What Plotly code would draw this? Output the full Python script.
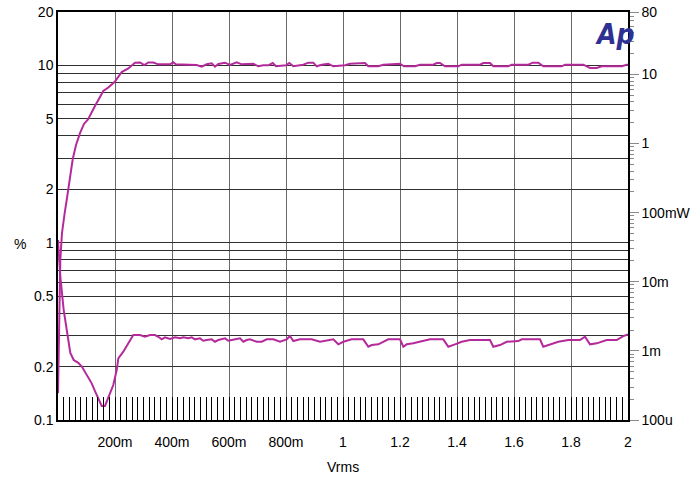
import plotly.graph_objects as go

# ---- data ----
vrms_thd = [0, 0.0081, 0.02, 0.0281, 0.0351, 0.0432, 0.0551, 0.0712, 0.0842, 0.0947,
            0.1077, 0.1182, 0.1298, 0.1414, 0.1533, 0.1649, 0.1765, 0.194, 0.206, 0.2116,
            0.2291, 0.2467, 0.2642, 0.2877, 0.3053, 0.3228, 0.3404, 0.3519, 0.3639, 0.3754,
            0.393, 0.4105, 0.4281, 0.4396, 0.4572, 0.4691, 0.4807, 0.4982, 0.5098, 0.5218,
            0.5393, 0.5509, 0.5625, 0.586, 0.5975, 0.6095, 0.6211, 0.6386, 0.6502, 0.6621,
            0.6737, 0.6972, 0.7147, 0.7323, 0.7554, 0.7789, 0.8025, 0.814, 0.8256, 0.8491,
            0.8902, 0.9193, 0.966, 0.9835, 1.0011, 1.0305, 1.0712, 1.0888, 1.1007, 1.1239,
            1.1589, 1.2, 1.2116, 1.2235, 1.2467, 1.2702, 1.3053, 1.3519, 1.3695, 1.393,
            1.4165, 1.4456, 1.5158, 1.5274, 1.5509, 1.5744, 1.6151, 1.627, 1.6912, 1.7028,
            1.7263, 1.7554, 1.7905, 1.8316, 1.8491, 1.8667, 1.8902, 1.9253, 1.9604, 1.9835,
            2.0]
thd_pct = [1.035, 0.643, 0.417, 0.336, 0.283, 0.239, 0.218, 0.210, 0.1997, 0.187,
           0.175, 0.161, 0.1457, 0.1325, 0.120, 0.120, 0.1325, 0.1575, 0.1913, 0.2228,
           0.2427, 0.2706, 0.3014, 0.3014, 0.2948, 0.3014, 0.3014, 0.2948, 0.2851, 0.2926,
           0.2862, 0.2926, 0.2888, 0.2926, 0.2888, 0.2926, 0.2851, 0.2888, 0.2800, 0.2825,
           0.2851, 0.2763, 0.2825, 0.2888, 0.2800, 0.2825, 0.2851, 0.2888, 0.2763, 0.2825,
           0.2851, 0.2763, 0.2763, 0.2851, 0.2851, 0.2763, 0.2851, 0.2975, 0.2789, 0.2851,
           0.2851, 0.2763, 0.2851, 0.2672, 0.2763, 0.2851, 0.2851, 0.2589, 0.2647, 0.2672,
           0.2851, 0.2851, 0.2589, 0.2672, 0.2706, 0.2763, 0.2851, 0.2851, 0.2589, 0.2672,
           0.2763, 0.2825, 0.2825, 0.2589, 0.2647, 0.2763, 0.2789, 0.2851, 0.2851, 0.2589,
           0.2672, 0.2763, 0.2825, 0.2825, 0.2948, 0.2672, 0.2706, 0.2825, 0.2825, 0.2975,
           0.3042]

vrms_pwr = [0, 0.0046, 0.0081, 0.014, 0.0186, 0.0235, 0.0305, 0.0361, 0.0516, 0.0632,
            0.0772, 0.0912, 0.1053, 0.1298, 0.159, 0.1765, 0.2, 0.2235, 0.2467, 0.2702,
            0.2877, 0.3028, 0.3168, 0.3344, 0.3519, 0.393, 0.4046, 0.413, 0.4867, 0.5042,
            0.5218, 0.5393, 0.5509, 0.5625, 0.586, 0.6035, 0.627, 0.6446, 0.6621, 0.6737,
            0.6853, 0.7028, 0.7204, 0.7379, 0.7533, 0.7649, 0.8, 0.8116, 0.8256, 0.8607,
            0.8782, 0.8958, 0.9077, 0.9253, 0.9484, 0.966, 1.007, 1.0246, 1.0596, 1.0772,
            1.0888, 1.1239, 1.1414, 1.1765, 1.2, 1.214, 1.2526, 1.2702, 1.3168, 1.3288,
            1.3404, 1.3579, 1.4046, 1.4165, 1.4807, 1.4923, 1.5158, 1.5274, 1.58, 1.5919,
            1.6502, 1.6656, 1.6853, 1.7028, 1.7674, 1.779, 1.8432, 1.8667, 1.8902, 1.9077,
            1.9779, 1.9954, 2.0]
power_w = [2.43e-4, 5.45e-3, 0.0207, 0.0508, 0.0783, 0.0989, 0.152, 0.213, 0.592, 0.953,
           1.41, 1.92, 2.23, 3.49, 5.75, 6.47, 7.90, 10.84, 12.18, 14.78,
           14.9, 13.69, 14.9, 14.9, 14.0, 14.0, 14.98, 14.0, 13.69, 12.93,
           14.0, 14.48, 12.93, 14.15, 14.78, 13.69, 14.98, 14.0, 14.0, 14.30,
           14.30, 13.10, 13.55, 13.55, 14.63, 13.10, 13.55, 14.63, 13.10, 13.83,
           14.78, 14.78, 13.10, 13.83, 14.30, 13.10, 13.55, 14.30, 14.63, 14.63,
           13.10, 13.10, 13.83, 14.30, 14.30, 13.10, 13.10, 13.83, 13.83, 14.63,
           14.63, 13.10, 13.10, 13.83, 13.83, 14.63, 14.63, 13.10, 13.10, 13.83,
           13.83, 14.78, 14.78, 13.10, 13.10, 13.83, 13.83, 12.38, 12.38, 13.10,
           13.10, 13.83, 13.83]

x_tickvals = [0.2, 0.4, 0.6, 0.8, 1.0, 1.2, 1.4, 1.6, 1.8, 2.0]
x_ticktext = ["200m", "400m", "600m", "800m", "1", "1.2", "1.4", "1.6", "1.8", "2"]

pct_gridvals = [0.1, 0.2, 0.3, 0.4, 0.5, 0.6, 0.7, 0.8, 0.9,
                1, 2, 3, 4, 5, 6, 7, 8, 9, 10, 20]
pct_labelled = {0.1: "0.1", 0.2: "0.2", 0.5: "0.5", 1: "1", 2: "2", 5: "5", 10: "10", 20: "20"}

w_tickvals = [1e-4, 1e-3, 1e-2, 0.1, 1, 10, 80]
w_ticktext = ["100u", "1m", "10m", "100mW", "1", "10", "80"]
w_minorvals = [m * 10 ** e for e in range(-4, 2) for m in range(2, 10) if m * 10 ** e < 80]

LINE = "#B52A9B"
FONT = "Liberation Sans, Arial, sans-serif"

fig = go.Figure()
fig.add_trace(go.Scatter(x=vrms_thd, y=thd_pct, mode="lines",
                         line=dict(color=LINE, width=2), yaxis="y", showlegend=False))
fig.add_trace(go.Scatter(x=vrms_pwr, y=power_w, mode="lines",
                         line=dict(color=LINE, width=2), yaxis="y2", showlegend=False))

fig.update_layout(
    width=697, height=479,
    margin=dict(l=58, r=69, t=12, b=59),
    paper_bgcolor="white", plot_bgcolor="white",
    font=dict(family=FONT, size=14, color="black"),
    xaxis=dict(
        range=[0, 2], tickmode="array", tickvals=x_tickvals, ticktext=x_ticktext,
        showgrid=True, gridcolor="#6a6a6a", gridwidth=1.3,
        showline=True, linecolor="black", linewidth=1.5, mirror=True,
        ticks="inside", ticklen=23, tickcolor="black", tickwidth=1,
        minor=dict(dtick=0.02, tick0=0, ticks="inside", ticklen=23,
                   tickcolor="black", tickwidth=1, showgrid=False),
        ticklabelstandoff=8, zeroline=False, automargin=False,
        ticklabeloverflow="allow",
    ),
    yaxis=dict(
        type="log", range=[-1, 1.30103],
        tickmode="array", tickvals=pct_gridvals,
        ticktext=[pct_labelled.get(v, "") for v in pct_gridvals],
        showgrid=True, gridcolor="#303030", gridwidth=1,
        showline=True, linecolor="black", linewidth=1.5, mirror=True,
        ticks="", zeroline=False, automargin=False, ticklabeloverflow="allow",
    ),
    yaxis2=dict(
        type="log", range=[-4, 1.90309], overlaying="y", side="right",
        tickmode="array", tickvals=w_tickvals, ticktext=w_ticktext,
        showgrid=False, showline=True, linecolor="black", linewidth=1.5,
        ticks="outside", ticklen=9, tickcolor="#8a8a8a", tickwidth=1,
        minor=dict(tickmode="array", tickvals=w_minorvals, ticks="outside",
                   ticklen=4, tickcolor="#8a8a8a", tickwidth=1, showgrid=False),
        zeroline=False, automargin=False, ticklabeloverflow="allow",
    ),
    annotations=[
        dict(text="Vrms", x=0.5, y=-0.115, xref="paper", yref="paper",
             showarrow=False, xanchor="center", yanchor="middle", font=dict(size=14)),
        dict(text="%", x=-0.067, y=0.431, xref="paper", yref="paper",
             showarrow=False, xanchor="center", yanchor="middle", font=dict(size=14)),
        dict(text="<b><i>Ap</i></b>", x=0.977, y=0.945, xref="paper", yref="paper",
             showarrow=False, xanchor="center", yanchor="middle",
             font=dict(family="Liberation Sans Narrow, DejaVu Sans Condensed, Liberation Sans",
                       size=28, color="#2E3192")),
    ],
)

# remove the page's default 8px body margin so the 697x479 figure fills the window
fig.write_html("out.html", config={"displayModeBar": False},
               post_script="document.body.style.margin='0';")
